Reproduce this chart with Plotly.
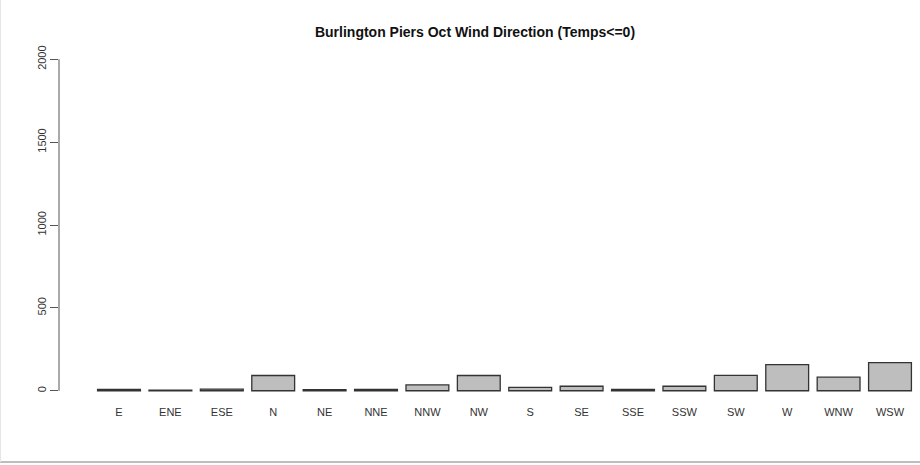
import plotly.graph_objects as go

directions = ["E", "ENE", "ESE", "N", "NE", "NNE", "NNW", "NW",
              "S", "SE", "SSE", "SSW", "SW", "W", "WNW", "WSW"]
counts = [8, 3, 10, 92, 7, 8, 35, 92, 20, 27, 8, 27, 93, 158, 82, 170]
y_ticks = [0, 500, 1000, 1500, 2000]
title_text = "Burlington Piers Oct Wind Direction (Temps<=0)"

W, H = 920, 465
L, R, T, B = 59, 0, 46, 61
plot_w = W - L - R
plot_h = H - T - B
px_per_cat = 51.4
x_left = -(119 - L) / px_per_cat
x_right = x_left + plot_w / px_per_cat

fig = go.Figure()
fig.add_trace(go.Bar(
    x=directions, y=counts, width=1 / 1.2,
    marker=dict(color="#bebebe", line=dict(color="#333333", width=1.3)),
))

fig.update_layout(
    width=W, height=H,
    margin=dict(l=L, r=R, t=T, b=B),
    paper_bgcolor="white", plot_bgcolor="white",
    showlegend=False,
    font=dict(family="Liberation Sans, Arial, sans-serif", color="#222222"),
    title=dict(text="<b>" + title_text.replace("<", "&lt;") + "</b>",
               x=475 / W, xref="container", xanchor="center",
               y=1 - 32 / H, yref="container", yanchor="middle",
               font=dict(size=14, color="#111111")),
    xaxis=dict(range=[x_left, x_right], showgrid=False, zeroline=False,
               showline=False, ticks="", tickfont=dict(size=11, color="#333333"),
               fixedrange=True),
    yaxis=dict(range=[-80, 2080], tickvals=y_ticks,
               ticktext=[str(v) for v in y_ticks], tickangle=-90,
               ticks="outside", ticklen=8, tickwidth=1, tickcolor="#555555",
               showgrid=False, zeroline=False, showline=False,
               tickfont=dict(size=11, color="#333333")),
    shapes=[
        dict(type="line", xref="paper", yref="y", x0=0, x1=0,
             y0=y_ticks[0], y1=y_ticks[-1], line=dict(color="#555555", width=1)),
        dict(type="line", xref="paper", yref="paper",
             x0=-L / plot_w, x1=1, y0=-(462 - (H - B)) / plot_h, y1=-(462 - (H - B)) / plot_h,
             line=dict(color="#bdbdbd", width=2)),
        dict(type="line", xref="paper", yref="paper",
             x0=-(L - 0.5) / plot_w, x1=-(L - 0.5) / plot_w,
             y0=-(462 - (H - B)) / plot_h, y1=1 + T / plot_h,
             line=dict(color="#e6e6e6", width=1)),
    ],
)

fig.write_html("out.html")
